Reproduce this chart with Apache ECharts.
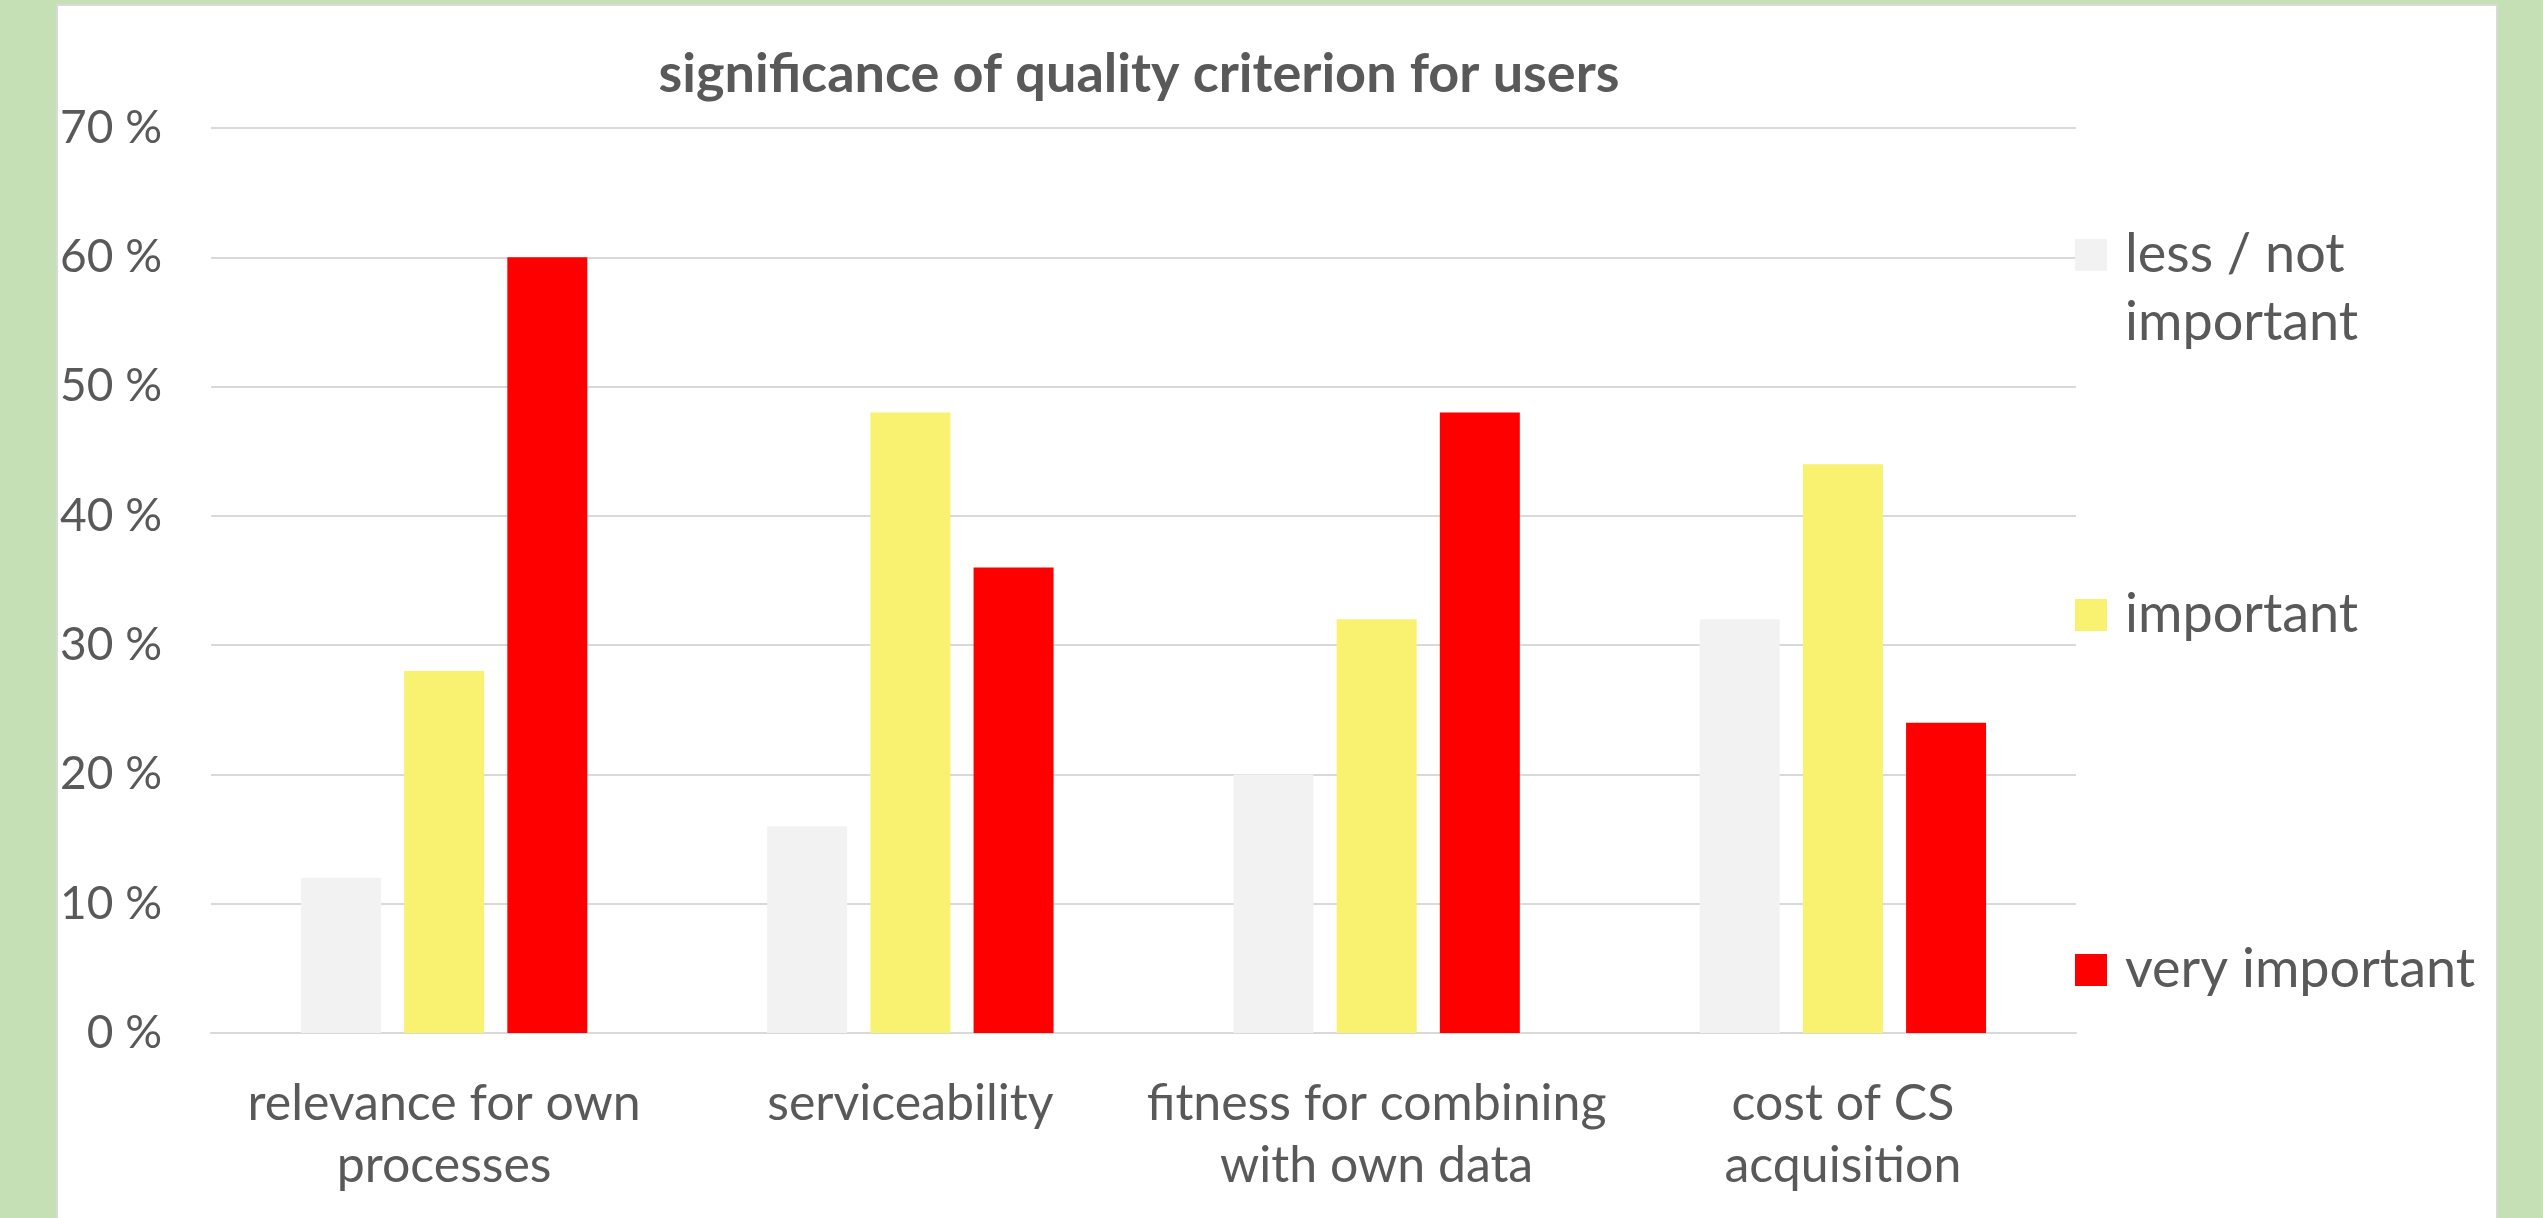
<!DOCTYPE html>
<html>
<head>
<meta charset="utf-8">
<script src="https://cdn.jsdelivr.net/npm/echarts@6/dist/echarts.min.js"></script>
<style>
  html, body { margin: 0; padding: 0; background: #c5e0b4; overflow: hidden; }
  #panel {
    position: absolute; left: 56px; top: 4px; width: 2438px; height: 1220px;
    background: #fff; border: 2px solid #d9d9d9;
  }
  #chart { position: absolute; left: 0; top: 0; width: 2543px; height: 1218px; }
</style>
</head>
<body>
<div id="panel"></div>
<div id="chart"></div>
<script>
  // categories and values (percent)
  const categories = ['relevance for own\nprocesses', 'serviceability', 'fitness for combining\nwith own data', 'cost of CS\nacquisition'];
  const seriesNames = ['less / not important', 'important', 'very important'];
  const lessNotImportant = [12, 16, 20, 32];
  const important = [28, 48, 32, 44];
  const veryImportant = [60, 36, 48, 24];
  const yTicks = [0, 10, 20, 30, 40, 50, 60, 70];

  const textColor = '#595959';
  const font = 'Lato, "Open Sans", sans-serif';
  const colors = ['#f2f2f2', '#f8f270', '#ff0000'];

  let chart = echarts.init(document.getElementById('chart'));

  function makeLegend(name, top, label) {
    return {
      orient: 'vertical',
      left: 2075,
      top: top,
      padding: 0,
      itemWidth: 32,
      itemHeight: 32,
      itemGap: 0,
      icon: 'rect',
      data: [name],
      formatter: label ? function () { return label; } : '{name}',
      textStyle: { color: textColor, fontFamily: font, fontSize: 54, lineHeight: 68, padding: [0, 0, 0, 13] }
    };
  }

  chart.setOption({
    animation: false,
    backgroundColor: 'transparent',
    color: colors,
    title: {
      text: 'significance of quality criterion for users',
      left: 1139,
      top: 48,
      padding: 0,
      textAlign: 'center',
      textStyle: { color: textColor, fontFamily: font, fontWeight: 'bold', fontSize: 54 }
    },
    legend: [
      // empty first line keeps the icon level with "less / not"
      makeLegend(seriesNames[0], 153, '\nless / not\nimportant'),
      makeLegend(seriesNames[1], 581),
      makeLegend(seriesNames[2], 936)
    ],
    grid: { left: 211, right: 467, top: 128, bottom: 185 },
    xAxis: {
      type: 'category',
      data: categories,
      axisLine: { lineStyle: { color: '#d9d9d9', width: 2 } },
      axisTick: { show: false },
      axisLabel: { color: textColor, fontFamily: font, fontSize: 50, lineHeight: 62, margin: 40, interval: 0 }
    },
    yAxis: {
      type: 'value',
      min: yTicks[0],
      max: yTicks[yTicks.length - 1],
      interval: 10,
      axisLine: { show: false },
      axisTick: { show: false },
      splitLine: { lineStyle: { color: '#d9d9d9', width: 2 } },
      axisLabel: {
        color: textColor, fontFamily: font, fontSize: 46, margin: 49,
        formatter: function (v) { return v + ' %'; }
      }
    },
    series: [
      { name: seriesNames[0], type: 'bar', data: lessNotImportant, barWidth: 80, barGap: '29%' },
      { name: seriesNames[1], type: 'bar', data: important, barWidth: 80, barGap: '29%' },
      { name: seriesNames[2], type: 'bar', data: veryImportant, barWidth: 80, barGap: '29%' }
    ]
  });
</script>
</body>
</html>
